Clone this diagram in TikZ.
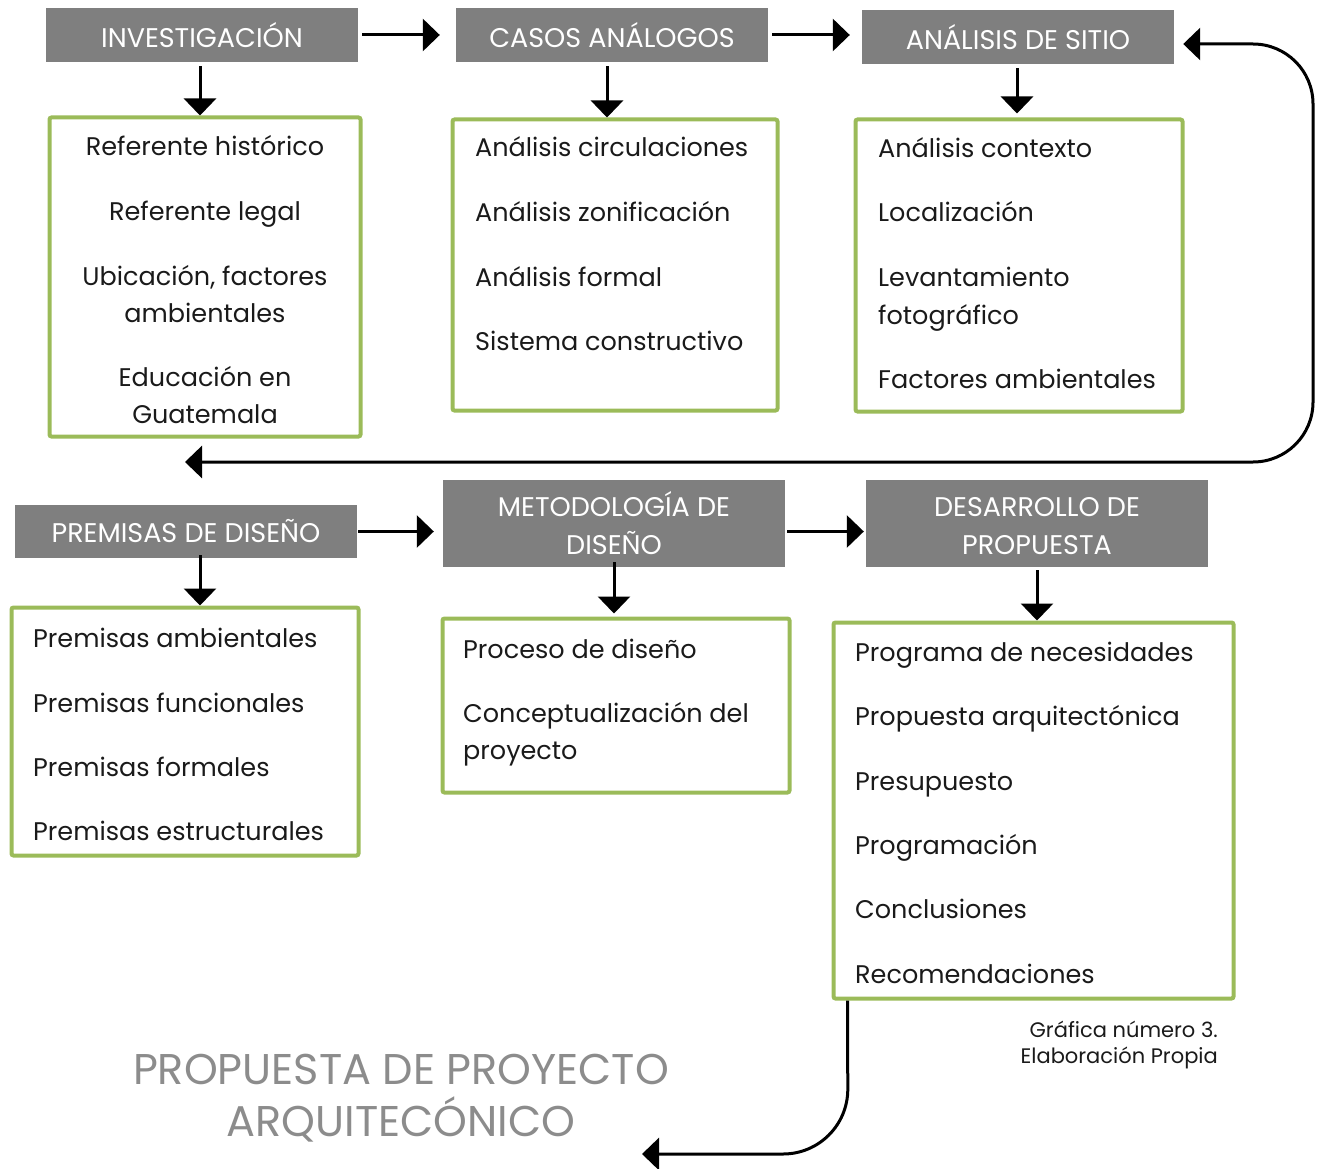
\documentclass[tikz,border=0pt]{standalone}
\usepackage{fontspec}
\setmainfont{Poppins}
\usetikzlibrary{arrows.meta}
\definecolor{hdrgray}{HTML}{7F7F7F}
\definecolor{boxgreen}{HTML}{9BBB59}
\definecolor{titlegray}{HTML}{8C8C8C}
\definecolor{txt}{HTML}{1A1A1A}
\tikzset{
  hdr/.style={fill=hdrgray, draw=none, text=white, align=center, inner sep=0pt,
    font=\fontsize{27}{38}\selectfont},
  gbox/.style={draw=boxgreen, line width=4pt, rounded corners=2pt, inner sep=0pt},
  itemL/.style={anchor=base west, inner sep=0pt, text=txt, font=\fontsize{25.5}{30}\selectfont},
  itemC/.style={anchor=base, inner sep=0pt, text=txt, font=\fontsize{25.5}{30}\selectfont},
  arr/.style={line width=3pt, -{Triangle[length=17pt,width=32pt]}},
  arrboth/.style={line width=3pt, {Triangle[length=17pt,width=32pt]}-{Triangle[length=17pt,width=32pt]}},
}
\begin{document}
\begin{tikzpicture}[x=1pt,y=-1pt]
\useasboundingbox (0,0) rectangle (1319,1169);
% headers
\node[hdr, minimum width=312pt, minimum height=54pt] (h1) at (202,35) {INVESTIGACIÓN};
\node[hdr, minimum width=312pt, minimum height=54pt] (h2) at (612,35) {CASOS ANÁLOGOS};
\node[hdr, minimum width=312pt, minimum height=54pt] (h3) at (1018,37) {ANÁLISIS DE SITIO};
\node[hdr, minimum width=342pt, minimum height=53pt] (h4) at (186,531.5) {PREMISAS DE DISEÑO};
\node[hdr, minimum width=342pt, minimum height=87pt] (h5) at (614,523.5) {METODOLOGÍA DE\\DISEÑO};
\node[hdr, minimum width=342pt, minimum height=87pt] (h6) at (1037,523.5) {\vphantom{Í}DESARROLLO DE\\PROPUESTA};
% green boxes
\node[gbox, minimum width=311pt, minimum height=319pt] (b1) at (205,277) {};
\node[gbox, minimum width=325pt, minimum height=291pt] (b2) at (615,265) {};
\node[gbox, minimum width=327pt, minimum height=292pt] (b3) at (1019,265.5) {};
\node[gbox, minimum width=347pt, minimum height=248pt] (b4) at (185,731.5) {};
\node[gbox, minimum width=347pt, minimum height=174pt] (b5) at (616,705.5) {};
\node[gbox, minimum width=400pt, minimum height=376pt] (b6) at (1033.5,810.5) {};
% box 1
\node[itemC] (t11) at (205,156) {Referente histórico};
\node[itemC] (t12) at (205,220) {Referente legal};
\node[itemC] (t13) at (205,285) {Ubicación, factores};
\node[itemC] (t14) at (205,322) {ambientales};
\node[itemC] (t15) at (205,386) {Educación en};
\node[itemC] (t16) at (205,423) {Guatemala};
% box 2
\node[itemL] (t21) at (475,157) {Análisis circulaciones};
\node[itemL] (t22) at (475,222) {Análisis zonificación};
\node[itemL] (t23) at (475,286) {Análisis formal};
\node[itemL] (t24) at (475,350) {Sistema constructivo};
% box 3
\node[itemL] (t31) at (878,158) {Análisis contexto};
\node[itemL] (t32) at (878,222) {Localización};
\node[itemL] (t33) at (878,286) {Levantamiento};
\node[itemL] (t34) at (878,324) {fotográfico};
\node[itemL] (t35) at (878,388) {Factores ambientales};
% box 4
\node[itemL] (t41) at (33,647) {Premisas ambientales};
\node[itemL] (t42) at (33,712) {Premisas funcionales};
\node[itemL] (t43) at (33,776) {Premisas formales};
\node[itemL] (t44) at (33,840) {Premisas estructurales};
% box 5
\node[itemL] (t51) at (463,658) {Proceso de diseño};
\node[itemL] (t52) at (463,722) {Conceptualización del};
\node[itemL] (t53) at (463,759) {proyecto};
% box 6
\node[itemL] (t61) at (855,661) {Programa de necesidades};
\node[itemL] (t62) at (855,725) {Propuesta arquitectónica};
\node[itemL] (t63) at (855,790) {Presupuesto};
\node[itemL] (t64) at (855,854) {Programación};
\node[itemL] (t65) at (855,918) {Conclusiones};
\node[itemL] (t66) at (855,983) {Recomendaciones};
% title and caption
\node[anchor=base, inner sep=0pt, text=titlegray, font=\fontsize{43}{56}\selectfont] (ti1) at (401,1084) {PROPUESTA DE PROYECTO};
\node[anchor=base, inner sep=0pt, text=titlegray, font=\fontsize{43}{56}\selectfont] (ti2) at (401,1136) {ARQUITECÓNICO};
\node[anchor=base east, inner sep=0pt, text=txt, font=\fontsize{21}{24}\selectfont] (c1) at (1218,1037) {Gráfica número 3.};
\node[anchor=base east, inner sep=0pt, text=txt, font=\fontsize{21}{24}\selectfont] (c2) at (1218,1063) {Elaboración Propia};
% horizontal arrows
\draw[arr, shorten <=4pt, shorten >=16pt] (h1.east) -- (h2.west);
\draw[arr, shorten <=4pt, shorten >=12pt] (h2.east) -- (h3.west |- h2.east);
\draw[arr, shorten <=1pt, shorten >=9pt] (h4.east) -- (h5.west |- h4.east);
\draw[arr, shorten <=2pt, shorten >=2pt] (h5.east |- h4.east) -- (h6.west |- h4.east);
% vertical arrows
\draw[arr, shorten <=4pt] ([xshift=-2pt]h1.south) -- ([xshift=-2pt]h1.south |- b1.north);
\draw[arr, shorten <=4pt] ([xshift=-5pt]h2.south) -- ([xshift=-5pt]h2.south |- b2.north);
\draw[arr, shorten <=4pt, shorten >=4pt] ([xshift=-1pt]h3.south) -- ([xshift=-1pt]h3.south |- b3.north);
\draw[arr, shorten <=-3pt] ([xshift=14pt]h4.south) -- ([xshift=14pt]h4.south |- b4.north);
\draw[arr, shorten <=-5pt, shorten >=3pt] (h5.south) -- (h5.south |- b5.north);
\draw[arr, shorten <=3pt] (h6.south) -- (h6.south |- b6.north);
% loop from site analysis back to the second row
\coordinate (ret) at (185,462);
\draw[arrboth, rounded corners=60pt] ([shift={(9pt,-7pt)}]h3.east) -- (1313,44) -- (1313,462) -- (ret);
% final connector
\coordinate (fin) at (642,1154);
\draw[arr, rounded corners=65pt] ([xshift=16pt]b6.south west) -- (848,1154) -- (fin);
\end{tikzpicture}
\end{document}
